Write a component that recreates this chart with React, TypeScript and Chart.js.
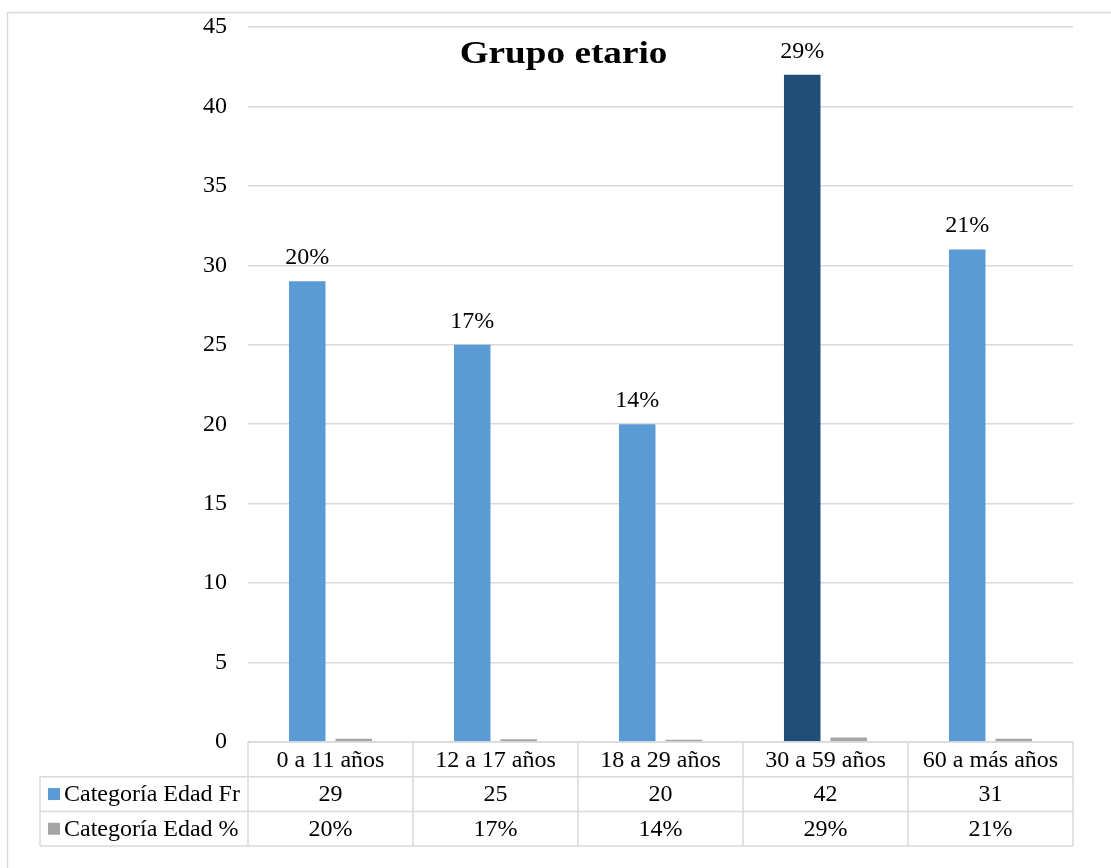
import React, { useEffect, useRef } from "react";
import { Chart, registerables } from "chart.js";

Chart.register(...registerables);

const categories = ["0 a 11 años", "12 a 17 años", "18 a 29 años", "30 a 59 años", "60 a más años"];
const frequencies = [29, 25, 20, 42, 31];
const percentages = [20, 17, 14, 29, 21];
const seriesNames = ["Categoría Edad Fr", "Categoría Edad %"];
const titleText = "Grupo etario";
const yMax = 45;
const yStep = 5;

const FONT = '"Liberation Serif", "Times New Roman", serif';
const BLUE = "#5B9BD5";
const DARK_BLUE = "#1F4E79";
const GREY = "#A5A5A5";
const LINE = "#D9D9D9";
const TEXT = "#000000";
const BODY_SIZE = 24;

const pctLabel = (p: number) => `${p}%`;

const decorPlugin = {
  id: "decor",
  beforeDraw(chart: any) {
    const ctx = chart.ctx;
    ctx.save();
    ctx.fillStyle = "#ffffff";
    ctx.fillRect(0, 0, chart.width, chart.height);
    // chart frame (continues past the right and bottom edges)
    ctx.strokeStyle = LINE;
    ctx.lineWidth = 1.5;
    ctx.strokeRect(7.5, 12.5, 1200, 1000);
    ctx.restore();
  },
  afterDraw(chart: any) {
    const ctx = chart.ctx;
    const area = chart.chartArea;
    const xs = chart.scales.x;
    ctx.save();

    // title, slightly widened
    ctx.fillStyle = TEXT;
    ctx.font = `bold 31px ${FONT}`;
    ctx.textAlign = "center";
    ctx.textBaseline = "alphabetic";
    ctx.save();
    ctx.translate(563.5, 63);
    ctx.scale(1.2, 1);
    ctx.fillText(titleText, 0, 0);
    ctx.restore();

    // value labels above the frequency bars
    ctx.font = `${BODY_SIZE}px ${FONT}`;
    const meta = chart.getDatasetMeta(0);
    meta.data.forEach((bar: any, i: number) => {
      ctx.fillText(pctLabel(percentages[i]), bar.x, bar.y - 17);
    });

    // data table
    const catW = (area.right - area.left) / categories.length;
    const top = area.bottom;
    const rowH = 34.7;
    const legendLeft = 40;
    const r1 = top + rowH;
    const r2 = top + rowH * 2;
    const r3 = top + rowH * 3;
    ctx.strokeStyle = LINE;
    ctx.lineWidth = 1.5;
    ctx.beginPath();
    ctx.moveTo(area.left, top);
    ctx.lineTo(area.right, top);
    ctx.moveTo(legendLeft, r1);
    ctx.lineTo(area.right, r1);
    ctx.moveTo(legendLeft, r2);
    ctx.lineTo(area.right, r2);
    ctx.moveTo(legendLeft, r3);
    ctx.lineTo(area.right, r3);
    ctx.moveTo(legendLeft, r1);
    ctx.lineTo(legendLeft, r3);
    for (let i = 0; i <= categories.length; i++) {
      const x = area.left + i * catW;
      ctx.moveTo(x, top);
      ctx.lineTo(x, r3);
    }
    ctx.stroke();

    ctx.fillStyle = TEXT;
    ctx.font = `${BODY_SIZE}px ${FONT}`;
    ctx.textAlign = "center";
    ctx.textBaseline = "middle";
    categories.forEach((c, i) => {
      const cx = xs.getPixelForValue(i);
      ctx.fillText(c, cx, (top + r1) / 2 + 1);
      ctx.fillText(String(frequencies[i]), cx, (r1 + r2) / 2 + 1);
      ctx.fillText(pctLabel(percentages[i]), cx, (r2 + r3) / 2 + 1);
    });

    // legend keys and series names
    const keys = [BLUE, GREY];
    [r1, r2].forEach((rt, k) => {
      const cy = rt + rowH / 2;
      ctx.fillStyle = keys[k];
      ctx.fillRect(48, cy - 6, 12, 12);
      ctx.fillStyle = TEXT;
      ctx.textAlign = "left";
      ctx.fillText(seriesNames[k], 64, cy + 1);
    });

    ctx.restore();
  },
};

export default function App() {
  const ref = useRef<HTMLCanvasElement>(null);

  useEffect(() => {
    if (!ref.current) return;
    const chart = new Chart(ref.current, {
      type: "bar",
      data: {
        labels: categories,
        datasets: [
          {
            label: seriesNames[0],
            data: frequencies,
            backgroundColor: frequencies.map((_, i) => (i === 3 ? DARK_BLUE : BLUE)),
            categoryPercentage: 0.564,
            barPercentage: 0.785,
          },
          {
            label: seriesNames[1],
            data: percentages.map((p) => p / 100),
            backgroundColor: GREY,
            categoryPercentage: 0.564,
            barPercentage: 0.785,
          },
        ],
      },
      options: {
        responsive: false,
        animation: false,
        layout: { padding: { left: 0, top: 27, right: 38, bottom: 126 } },
        plugins: {
          legend: { display: false },
          title: { display: false },
          tooltip: { enabled: false },
        },
        scales: {
          x: { display: false },
          y: {
            min: 0,
            max: yMax,
            afterFit(scale: any) {
              scale.width = 248;
              scale.paddingTop = 0;
              scale.paddingBottom = 0;
            },
            ticks: {
              stepSize: yStep,
              padding: 21,
              color: TEXT,
              font: { family: FONT, size: BODY_SIZE },
            },
            grid: { color: LINE, lineWidth: 1.5, drawTicks: false },
            border: { display: false },
          },
        },
      },
      plugins: [decorPlugin],
    });
    return () => chart.destroy();
  }, []);

  return (
    <div style={{ position: "absolute", left: 0, top: 0, width: 1111, height: 868 }}>
      <canvas ref={ref} width={1111} height={868} />
    </div>
  );
}
